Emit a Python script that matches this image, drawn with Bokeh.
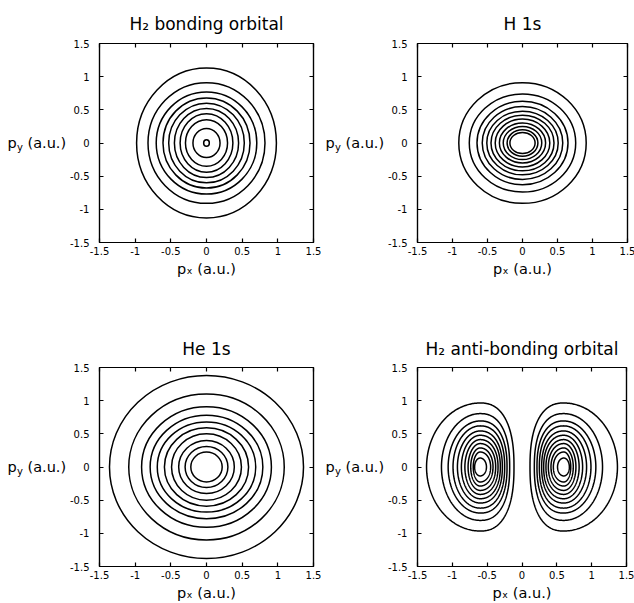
import numpy as np
from bokeh.plotting import figure
from bokeh.layouts import column, row
from bokeh.models import LinearAxis, FixedTicker, Title, Range1d
from bokeh.core.properties import value
from bokeh.embed import file_html
from bokeh.resources import INLINE

FONT = "DejaVu Sans"

# ---- data ----
tick_values = [-1.5, -1.0, -0.5, 0.0, 0.5, 1.0, 1.5]
tick_labels = ["-1.5", "-1", "-0.5", "0", "0.5", "1", "1.5"]

titles = ["H\u2082 bonding orbital", "H 1s", "He 1s", "H\u2082 anti-bonding orbital"]
x_label = "p\u2093 (a.u.)"
y_label_parts = ["p", "y", "(a.u.)"]

# H2 bonding orbital: contour half-widths (x) and half-heights (y)
h2b_rx = [0.98, 0.82, 0.705, 0.61, 0.53, 0.45, 0.37, 0.295, 0.19, 0.04]
h2b_ry = [1.13, 0.91, 0.77, 0.68, 0.60, 0.52, 0.44, 0.35, 0.22, 0.05]

# H 1s
h1s_rx = [0.91, 0.76, 0.65, 0.575, 0.51, 0.45, 0.39, 0.33, 0.275, 0.22, 0.18]
h1s_ry = [0.91, 0.74, 0.63, 0.55, 0.48, 0.42, 0.36, 0.30, 0.25, 0.20, 0.16]

# He 1s
he_rx = [1.36, 1.09, 0.91, 0.79, 0.69, 0.59, 0.49, 0.39, 0.30, 0.22]
he_ry = [1.38, 1.10, 0.91, 0.78, 0.68, 0.59, 0.50, 0.40, 0.31, 0.225]

# H2 anti-bonding orbital, right lobe (left lobe is its mirror image)
ab_peak = 0.6
ab_x_inner = [0.115, 0.177, 0.215, 0.249, 0.282, 0.311, 0.344, 0.378, 0.416, 0.45, 0.51]
ab_x_outer = [1.37, 1.156, 1.06, 0.99, 0.927, 0.87, 0.82, 0.774, 0.736, 0.70, 0.68]
ab_y_half = [0.965, 0.805, 0.694, 0.62, 0.543, 0.478, 0.413, 0.353, 0.287, 0.226, 0.135]

LINE_W = 1.5
FH = 199


def make_fig(title, fw=214, right=8, top=43, bottom=58, left=32, title_standoff=20):
    p = figure(frame_width=fw, frame_height=FH,
               x_range=Range1d(-1.5, 1.5), y_range=Range1d(-1.5, 1.5),
               output_backend="svg", toolbar_location=None,
               min_border_left=left, min_border_right=right,
               min_border_top=top, min_border_bottom=bottom,
               background_fill_color="white", border_fill_color="white")
    p.grid.visible = False
    p.outline_line_color = "black"
    p.outline_line_width = 1.2
    overrides = {v: s for v, s in zip(tick_values, tick_labels)}
    p.add_layout(LinearAxis(), "above")
    p.add_layout(LinearAxis(), "right")
    for ax in p.axis:
        ax.ticker = FixedTicker(ticks=tick_values)
        ax.major_label_overrides = overrides
        ax.axis_line_color = "black"
        ax.axis_line_width = 1.2
        ax.major_tick_in = 4
        ax.major_tick_out = 0
        ax.major_tick_line_width = 1.2
        ax.minor_tick_line_color = None
        ax.major_label_text_font = FONT
        ax.major_label_text_font_size = "10px"
        ax.major_label_text_color = "black"
    for ax in p.above + p.right:
        ax.major_label_text_color = None
        ax.major_label_standoff = 0
    xb = p.below[0]
    xb.major_label_standoff = 4
    xb.axis_label = x_label
    xb.axis_label_text_font = FONT
    xb.axis_label_text_font_size = "14.5px"
    xb.axis_label_text_font_style = "normal"
    xb.axis_label_text_color = "black"
    xb.axis_label_standoff = 3
    p.left[0].major_label_standoff = 10

    p.title = Title(text=title, align="center", text_font=FONT, text_font_size="17px",
                    text_font_style="normal", text_color="black", standoff=title_standoff)
    return p


def ylabel_fig(width, x0, top, bottom):
    q = figure(frame_width=width, frame_height=FH, x_range=Range1d(0, width), y_range=Range1d(-1.5, 1.5),
               output_backend="svg", toolbar_location=None,
               x_axis_location=None, y_axis_location=None,
               min_border_left=0, min_border_right=0,
               min_border_top=top, min_border_bottom=bottom,
               background_fill_color="white", border_fill_color="white")
    q.grid.visible = False
    q.outline_line_color = None
    q.text(x=[x0], y=[0], text=[y_label_parts[0]], text_font=value(FONT),
           text_font_size="14.5px", text_baseline="middle", text_color="black")
    q.text(x=[x0 + 9.5], y=[0], text=[y_label_parts[1]], text_font=value(FONT), y_offset=4,
           text_font_size="10px", text_baseline="middle", text_color="black")
    q.text(x=[x0 + 20], y=[0], text=[y_label_parts[2]], text_font=value(FONT),
           text_font_size="14.5px", text_baseline="middle", text_color="black")
    return q


def rings(p, rx, ry):
    n = len(rx)
    p.ellipse(x=[0.0] * n, y=[0.0] * n, width=[2 * r for r in rx], height=[2 * r for r in ry],
              fill_color=None, line_color="black", line_width=LINE_W)


def lobes(p):
    t = np.linspace(0, 2 * np.pi, 361)
    c, s = np.cos(t), np.sin(t)
    xs, ys = [], []
    n = len(ab_y_half)
    for i in range(n):
        a_out = ab_x_outer[i] - ab_peak
        a_in = ab_peak - ab_x_inner[i]
        e_in = 2.4 - 0.4 * i / (n - 1)
        b = ab_y_half[i]
        xr = np.where(c >= 0, ab_peak + a_out * c,
                      ab_peak - a_in * np.abs(c) ** (2 / e_in))
        yr = np.where(c >= 0, b * s, b * np.sign(s) * np.abs(s) ** (2 / e_in))
        xs.append(list(xr)); ys.append(list(yr))
        xs.append(list(-xr)); ys.append(list(yr))
    p.multi_line(xs=xs, ys=ys, line_color="black", line_width=LINE_W)


p1 = make_fig(titles[0])
rings(p1, h2b_rx, h2b_ry)
p2 = make_fig(titles[1], fw=210, right=9)
rings(p2, h1s_rx, h1s_ry)
p3 = make_fig(titles[2], top=67, bottom=37, title_standoff=17)
rings(p3, he_rx, he_ry)
p4 = make_fig(titles[3], fw=209, right=10, top=67, bottom=37, title_standoff=17)
lobes(p4)

layout = column(
    row(ylabel_fig(66, 7, 43, 58), p1, ylabel_fig(63, 4, 43, 58), p2),
    row(ylabel_fig(66, 7, 67, 37), p3, ylabel_fig(63, 4, 67, 37), p4),
)

open("out.html", "w").write(file_html(layout, INLINE))
